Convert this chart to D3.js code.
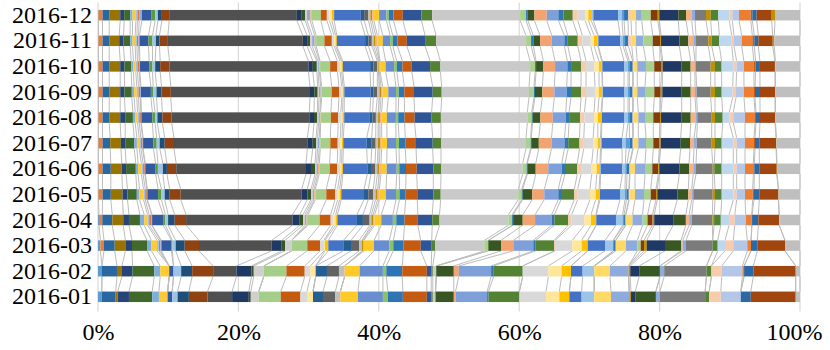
<!DOCTYPE html>
<html><head><meta charset="utf-8">
<script src="https://cdn.jsdelivr.net/npm/d3@7"></script>
<style>body{margin:0;background:#fff}svg{display:block}</style>
</head><body>
<svg id="chart" width="830" height="350"></svg>
<script>
const months = ["2016-01","2016-02","2016-03","2016-04","2016-05","2016-06","2016-07","2016-08","2016-09","2016-10","2016-11","2016-12"];
const xTicks = [0, 0.2, 0.4, 0.6, 0.8, 1];
const seriesColors = ["#5B9BD5","#ED7D31","#2A66A0","#997300","#264478","#43682B","#7CAFDD","#FFCA38","#9DC3E6","#E2743A","#8FAADC","#335AA1","#5E9A3E","#9DC3E6","#1F4E79","#8F4312",
"#505050","#1F3864","#375623","#D0CECE","#8FAADC","#F4B183","#A5CF88","#C55A11","#D9D9D9","#FFE699","#FFC000",
"#4472C4","#255E91","#636363","#BFBFBF","#BF9000","#F4B183",
"#FFCA28","#698ED0","#8CC168","#2E75B6","#C55A11","#2F5597","#548235","#C9C9C9",
"#A9D18E","#2E75B6","#375623","#F2A470","#7F9FD9","#2E75B6","#548235","#F8CBAD","#D9D9D9","#FFE699","#FFC000","#9DC3E6",
"#4472C4","#9DC3E6","#5B9BD5","#2E75B6","#F8CBAD","#FFD966","#8FAADC","#A9D18E","#843C0C","#BF9000",
"#1F3864","#385723","#F4B183","#8FAADC","#7B7B7B","#BF9000","#548235",
"#BDD7EE","#F8CBAD","#B4C7E7","#ED7D31","#C55A11","#2A69A6","#A0460E","#BF9000","#BFBFBF"];

const v2016_01 = [3.7,0,14,2,11.3,23.3,6.7,8.7,0,0,0,4.6,0,5.4,11.3,18.7, 24.6,16.7,2,8,0,0,22,19.7,6.6,6,0, 0,10,12.4,5,0,0, 17.6,25,5,15,24,4.4,1.6,2.7, 0,0,18.3,1.7,31.7,1.3,31,0,26.7,13.3,10,0, 12.3,12.7,0,0,0,16.7,18.3,0,0,1.7, 4.3,20.7,0,4,45.3,0,4, 0,11.7,20,0,0,10,45,0,4.3];
const v2016_02 = [4,0,15,5,10.6,21.7,6,9,0,0,0,4.3,0,7.7,11,21, 23.4,15,2.3,10,0,0,22.7,18.3,5.7,5.3,0, 0,11.3,12,5.7,0,0, 15,23.3,3.4,16,24.6,4.4,1.6,3.4, 0,0,17.6,5,32.4,2.6,29,0,25.7,13.3,9.4,0, 11.6,11.7,0,0,0,15.7,18.6,0,0,1.7, 9,20.7,0,4.3,42.3,0,5, 0,10.4,20.6,1.7,0,9.3,42.4,0,4.3];
const v2016_03 = [2.4,3.6,10.7,10.7,6.6,15,4.4,5.6,2,1.4,1,10,1,3.3,9,14.3, 72.7,10,3.3,6.7,0,0,15.6,12.7,4,1,3.3, 15,7.7,8.3,2.7,1,1, 10,15.3,4,10,17.4,11,3.3,49.3, 4,0,12.7,12.3,20,2.4,18.6,0.7,17.3,9.4,6,0, 17.3,8.3,0,2.4,0,10.3,11.3,3.4,3.3,2.7, 18.3,16,1.7,3.3,26.7,0,5, 7.3,8.3,14,3.7,0,6.3,27.7,0,15];
const v2016_04 = [1,3.3,10,11,5.7,11,4.3,3.4,1.6,2.4,0.5,11,2.3,2.7,6.6,11.4, 106.5,7.3,3.3,2,1.5,1.5,11.7,11,2.7,2.3,1.7, 19.6,6,6.7,1.7,1.7,1.6, 6.7,11.6,3.4,8.3,13.3,14.4,7.3,69, 3.7,1,9.6,12.4,16.6,2.7,14,3.3,12.7,6.7,5,0.3, 19.7,6.6,1.5,1.5,0.4,6.6,10,5,5,1.7, 19,12.7,3.3,2.7,20.6,1.7,6.7, 8.3,5.7,11,6,0.3,6.3,20.7,0.3,20.7];
const v2016_05 = [0.5,4,8.3,11.7,5,9.3,2.7,4,1.7,1.7,0.5,10.7,3.3,3.3,5,11, 121,5.6,3.7,1.6,1.6,1.1,11,8.7,2.7,2,1.6, 22.7,4.3,5,2.3,2,1.7, 6.7,10,3.5,6.2,11.6,16,7.4,77.6, 3.4,1,9.6,12,14,2.7,13.3,3.4,12.3,5.7,3.3,1, 20,5,1.5,2.3,0.5,5.7,9,6.7,5.3,1.3, 20,11,3.4,1.6,19.4,2.3,6.7, 11.6,3.4,8.3,7.7,1.3,5.3,19,0.3,21.4];
const v2016_06 = [0.5,4,8.3,11,4.3,9.7,2.3,3.3,1.7,1.7,0.5,10.3,2.3,5,4,9.3, 129.8,5,4,1.5,1.5,1.3,10.4,7.6,2.7,1.6,1.3, 24.4,3.7,4,2.3,2,1.7, 5.7,10,2.6,6.7,10.7,16.6,7.7,81.7, 4,0.6,8.4,12.6,13.4,3.3,12.3,3.7,10.7,5,3.3,0.7, 21.6,3,1.7,2.5,0.5,5,10,7.3,6,1, 20,9.7,4.3,2.7,16.7,1.6,7.4, 11.6,3.4,8.3,8.3,1,5,17.4,0.3,23];
const v2016_07 = [0.5,4,7.7,10.7,4.3,9,2.7,2.3,1.7,1.7,0.5,10.3,3.3,3,5,9.3, 133.3,5.4,3.3,1.6,1.6,1.1,10,7.4,2.6,1.7,1.3, 23.4,5,4,2.3,2,1.7, 5.3,9,3,6.3,10.7,16.7,8.3,85, 4.7,0.5,7.6,12.7,13,3.7,11.3,4.3,9.4,4.6,2.7,1, 20.5,4,3.5,3.2,0.6,5,7.7,7.3,6,1.4, 20,9.3,4,2.7,15,3.3,6.7, 11.6,3.4,8.3,9,1,4.3,16.7,0.5,23.5];
const v2016_08 = [0.5,4,6.7,11,5,7.7,2.3,2.3,1.7,1.7,0.5,11,2.7,2.3,5,9.3, 137.6,4.7,3.3,1.3,1.3,0.7,10.3,7.3,2.7,1.7,1.6, 25.7,2.7,3.3,2.3,1.7,1.7, 5.3,9,2.3,6.4,10,17,9.3,86.4, 4.4,1,7.7,12.4,13,3.3,11,4.3,9.7,3.7,3.3,0.7, 22.2,4,1.3,3.3,0.7,5,6.7,8.3,6.7,1, 20.7,9,5.3,1.3,14.4,3.3,7.7, 6.6,4,11.7,10,1,4,15,0.5,24.5];
const v2016_09 = [0.5,4,6.7,11,4.3,7.3,2.3,2.7,1.7,1.7,0.7,10,2.3,3.3,5,9.3, 139.2,4.3,3.4,1.3,1.7,1,10,7.3,2.7,1.3,1.3, 26.4,2.6,4,2.2,1.5,1.7, 5.6,7.7,2.7,5.6,9.7,18.7,9,87.3, 5,1,7.3,12,12.4,4.3,10,5,9,4,3.3,0.5, 21.2,4,1.3,3.3,0.7,4,7.7,9.3,6.4,1.6, 19.4,9,4.3,1.7,14,4.3,6.7, 11,3.3,8,10,1,5,15,0.5,24.5];
const v2016_10 = [0.5,4,6.7,11,4.3,6.7,2.3,2.3,1.7,1.7,0.7,9.3,3.3,2.7,5,9.3, 139,4.4,4,1.3,1.3,0.7,10,7.3,2.7,1.5,1.2, 27.3,3.3,4,1,1,0.7, 5.5,8.5,2.7,5.6,9.4,18.3,10.3,89.7, 5,1,7.3,11.7,12.3,3.7,10,5,8.3,4.7,2.7,0.6, 21.7,4,1.3,3.4,0.5,4,8.7,8.3,7.4,1, 19,9,4.3,1,14.7,4.3,6.7, 11.6,3.4,7.3,10,1.7,4.3,15,0.5,24.6];
const v2016_11 = [0.5,4,6.7,10,4.3,6.7,2.3,2.7,1.7,1.6,1,9,4,3.4,3.6,8.4, 135,4.3,3,2,2.5,1.5,8.3,7.4,2.3,1.5,1.2, 28.3,3.3,3.4,1.8,2,1.8, 5.4,7.3,2.7,4.6,9.4,18.3,11,90, 5,2.3,6.7,11.7,12.6,3.4,10,4.6,8.4,3.3,3.7,0.6, 21.7,3,2,3.3,3.4,4.3,7.3,9.4,7.3,1, 18.3,9,5,2.7,12.3,3.4,7.6, 12.4,2.3,7.7,10.6,2,4,14.4,1.6,25.7];
const v2016_12 = [0.5,4,6.7,11,4,6,2.3,3.4,1.6,1.7,2.7,9.3,4,2.7,4,7.3, 127.7,4.3,4,1.7,3.3,1.7,9,6,2.6,2.4,2.3, 26.7,3.3,4.3,2,1.7,1.7, 5.3,7.3,2.4,4.6,9.4,18.6,10.7,88, 6,1.7,6.6,12.4,11.6,5,9.4,5,7.3,3.3,2.7,2.3, 24.7,4,2,4,3,5,5.7,9,7,1.6, 19,7.7,5.7,3.3,11,4.7,7.6, 11,3,6.7,11.7,1.6,4.4,15,3.3,25];

const rowValues = [v2016_01,v2016_02,v2016_03,v2016_04,v2016_05,v2016_06,v2016_07,v2016_08,v2016_09,v2016_10,v2016_11,v2016_12];

const svg = d3.select("#chart");
const plotLeft = 98, plotRight = 800, plotTop = 2.4, plotBottom = 309.6;
const x = d3.scaleLinear().domain([0,1]).range([plotLeft, plotRight]);
const y = d3.scaleBand().domain(months).range([plotBottom, plotTop]).paddingInner(0.59).paddingOuter(0.295);

const stacks = rowValues.map((vals, r) => {
  const total = d3.sum(vals);
  let acc = 0;
  return vals.map((v, i) => {
    const s = acc / total; acc += v; const e = acc / total;
    return {month: months[r], series: i, x0: s, x1: e};
  });
});

svg.append("g").selectAll("line").data(xTicks).join("line")
  .attr("x1", d => x(d)).attr("x2", d => x(d))
  .attr("y1", plotTop).attr("y2", plotBottom + 2)
  .attr("stroke", "#D9D9D9").attr("stroke-width", 1.2);

const lines = [];
for (let r = 0; r < months.length - 1; r++) {
  for (let i = 0; i < seriesColors.length; i++) {
    lines.push({a: stacks[r][i].x1, b: stacks[r+1][i].x1, r});
  }
}
svg.append("g").selectAll("line").data(lines).join("line")
  .attr("x1", d => x(d.a)).attr("y1", d => y(months[d.r]))
  .attr("x2", d => x(d.b)).attr("y2", d => y(months[d.r+1]) + y.bandwidth())
  .attr("stroke", "#BDBDBD").attr("stroke-width", 1);

const gRows = svg.append("g").selectAll("g").data(stacks).join("g");
gRows.selectAll("rect").data(d => d).join("rect")
  .attr("x", d => x(d.x0)).attr("width", d => Math.max(0, x(d.x1) - x(d.x0)))
  .attr("y", d => y(d.month)).attr("height", y.bandwidth())
  .attr("fill", d => seriesColors[d.series]);

const fontFam = "'Liberation Serif','Times New Roman',serif";
const yAxis = svg.append("g").attr("transform", `translate(${plotLeft - 6},0)`)
  .call(d3.axisLeft(y).tickSize(0).tickPadding(0));
yAxis.select(".domain").remove();
yAxis.selectAll("text").attr("font-family", fontFam).attr("font-size", 24).attr("fill", "#000");

const xAxis = svg.append("g").attr("transform", `translate(0,${plotBottom + 13})`)
  .call(d3.axisBottom(x).tickValues(xTicks).tickFormat(d3.format(".0%")).tickSize(0).tickPadding(0));
xAxis.select(".domain").remove();
xAxis.selectAll("text").attr("font-family", fontFam).attr("font-size", 24).attr("fill", "#000");
xAxis.selectAll(".tick").filter(d => d === 1).select("text").attr("text-anchor", "end").attr("x", 22);
</script>
</body></html>
